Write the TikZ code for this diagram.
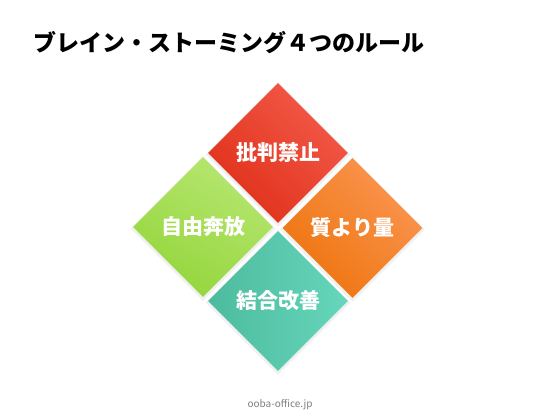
\documentclass[tikz,border=0pt]{standalone}
\usepackage{fontspec}
\newfontfamily\jp{Noto Sans CJK JP}
\usetikzlibrary{shapes.geometric}
\definecolor{redL}{HTML}{F25A48}
\definecolor{redD}{HTML}{E0301A}
\definecolor{orgL}{HTML}{FA9550}
\definecolor{orgD}{HTML}{EE740E}
\definecolor{grnL}{HTML}{B6E670}
\definecolor{grnD}{HTML}{94D63C}
\definecolor{tealL}{HTML}{66D6BC}
\definecolor{tealD}{HTML}{4CBB9D}
\definecolor{footgray}{HTML}{808080}
\tikzset{
  x=1pt, y=-1pt,
  quad/.style={diamond, aspect=1, minimum width=140pt, minimum height=140pt,
    inner sep=0pt, text=white, font=\jp\bfseries\fontsize{21}{24}\selectfont},
  quadshadow/.style={diamond, aspect=1, minimum width=145pt, minimum height=145pt,
    inner sep=0pt, fill=black, opacity=0.06},
  titletext/.style={anchor=west, inner sep=0pt, font=\jp\bfseries\fontsize{23}{26}\selectfont},
  foottext/.style={inner sep=0pt, text=footgray, font=\jp\fontsize{10}{12}\selectfont}
}
\begin{document}
\begin{tikzpicture}
\useasboundingbox (0,0) rectangle (560,420);
\fill[white] (0,0) rectangle (560,420);
\node[titletext] (title) at (33,43) {ブレイン・ストーミング４つのルール};
% soft shadows
\node[quadshadow] (s1) at (278,154.5) {};
\node[quadshadow] (s2) at (203,228.5) {};
\node[quadshadow] (s3) at (352.5,229.5) {};
\node[quadshadow] (s4) at (278,302.5) {};
% diamonds
\node[quad, shade, top color=redL, bottom color=redD, shading angle=-45] (top) at (278,153) {\raisebox{-2pt}{批判禁止}};
\node[quad, shade, top color=grnL, bottom color=grnD, shading angle=-30] (left) at (203,227) {\raisebox{-1pt}{自由奔放}};
\node[quad, shade, top color=orgL, bottom color=orgD, shading angle=-45] (right) at (352.5,228) {\raisebox{-4pt}{質より量}};
\node[quad, shade, left color=tealD, right color=tealL] (bottom) at (278,301) {\raisebox{-2pt}{結合改善}};
\node[foottext] (foot) at (280,405) {ooba-office.jp};
\end{tikzpicture}
\end{document}
